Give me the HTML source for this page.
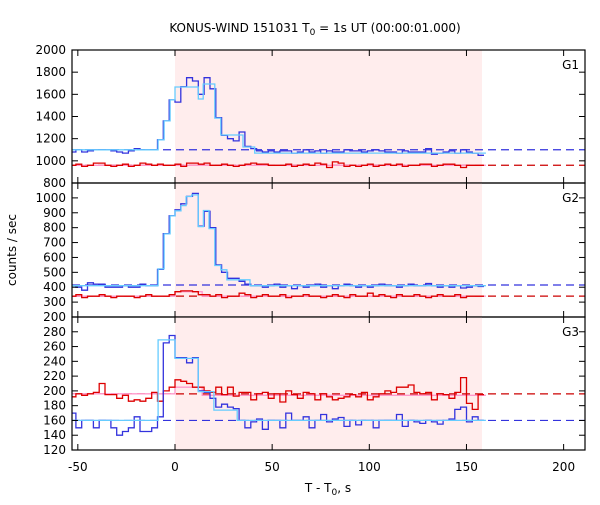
<!DOCTYPE html>
<html><head><meta charset="utf-8"><style>
body{margin:0;background:#fff;}
svg text{font-family:"DejaVu Sans","Liberation Sans",sans-serif;font-size:12px;fill:#000;}
</style></head><body>
<svg id="c" width="600" height="500" xmlns="http://www.w3.org/2000/svg">
<text x="315" y="32" text-anchor="middle">KONUS-WIND 151031 T<tspan font-size="9" dy="3">0</tspan><tspan dy="-3"> = 1s UT (00:00:01.000)</tspan></text>
<text x="328" y="492" text-anchor="middle">T - T<tspan font-size="9" dy="3">0</tspan><tspan dy="-3">, s</tspan></text>
<text transform="translate(16,250) rotate(-90)" text-anchor="middle">counts / sec</text>
</svg>
<script>
const binStart=-54, binW=3;
const g1Blue=[1080,1100,1080,1090,1100,1100,1100,1090,1080,1070,1090,1110,1100,1100,1100,1190,1360,1550,1530,1670,1750,1720,1600,1750,1650,1390,1230,1200,1180,1260,1130,1110,1090,1080,1090,1080,1090,1090,1070,1080,1100,1080,1090,1070,1090,1080,1080,1100,1090,1090,1080,1090,1100,1090,1080,1080,1070,1090,1080,1080,1080,1110,1060,1070,1080,1090,1070,1100,1080,1070,1050];
const g1Red=[960,970,950,960,980,980,960,950,960,970,950,960,980,970,960,970,960,960,970,950,980,980,970,980,960,960,970,960,950,960,970,980,970,970,960,960,960,970,950,960,970,960,980,970,940,990,980,950,960,950,960,970,950,960,970,960,970,950,960,960,970,970,950,960,970,970,960,940,960,960,960];
const g2Blue=[410,400,380,430,420,420,400,400,400,410,400,400,420,410,410,520,760,880,920,960,1010,1030,810,910,800,550,500,460,460,440,420,410,410,400,410,420,400,410,390,410,400,410,420,400,410,390,410,420,410,400,410,400,410,420,410,410,400,410,420,410,410,425,410,400,410,400,410,395,400,410,405];
const g2Red=[340,350,330,340,340,350,340,330,340,340,340,330,340,350,340,340,340,350,370,375,375,370,350,350,340,350,330,340,340,360,350,330,340,350,340,340,350,330,340,340,350,340,340,330,340,350,340,330,350,340,340,360,340,350,340,330,350,340,340,350,340,330,340,350,340,340,350,330,340,340,340];
const g3Blue=[170,150,160,160,150,160,160,150,140,145,150,165,145,145,150,165,265,275,245,245,238,245,200,198,190,178,182,178,176,160,150,158,162,148,160,160,150,170,160,160,165,150,160,168,158,162,164,152,160,154,160,160,150,160,160,160,168,152,160,158,156,160,158,155,160,162,175,178,158,165,160];
const g3Red=[192,196,194,196,198,210,195,195,190,194,186,188,186,190,198,186,200,205,215,213,210,205,205,200,198,205,195,205,193,198,198,188,196,198,190,196,185,200,195,190,198,196,188,196,192,188,190,192,195,192,198,188,192,196,200,198,205,205,208,198,196,198,188,196,195,190,198,218,183,175,195];
const g1LBEdges=[-54,-8.7,-5.6,-2.5,0,12,14.5,20.5,23.6,35,41,160];
const g1LB=[1100,1190,1360,1550,1666,1558,1693,1386,1233,1125,1070];
const g2LBEdges=[-54,-8.7,-5.6,-2.5,0,3.1,5.7,8.6,12,14.6,17.5,20.5,23.6,26.7,38.6,160];
const g2LB=[410,523,758,879,913,948,1009,1020,807,915,794,546,517,450,410];
const g3LBEdges=[-54,-8.7,-5.6,0,12,20,32,160];
const g3LB=[160,269,269,244,199,174,160];
const pinkEdges=[-54,0,14,160];
const g1Pink=[960,960,960];
const g2Pink=[340,370,340];
const g3Pink=[196,205,194];
const dash1=[1100,960], dash2=[415,340], dash3=[160,196];
const xTicks=[-50,0,50,100,150,200];
const y1Ticks=[800,1000,1200,1400,1600,1800,2000];
const y2Ticks=[200,300,400,500,600,700,800,900,1000];
const y3Ticks=[120,140,160,180,200,220,240,260,280];
const shade=[0,158];

const NS="http://www.w3.org/2000/svg", svg=document.getElementById('c');
const L=72,R=585,X0=-53,X1=211;
const xs=v=>L+(v-X0)/(X1-X0)*(R-L);
function mk(t,a,p){const e=document.createElementNS(NS,t);for(const k in a)e.setAttribute(k,a[k]);(p||svg).appendChild(e);return e;}
const panels=[
 {top:50,bot:183,min:800,max:2000,ticks:y1Ticks,blue:g1Blue,red:g1Red,lb:g1LB,lbE:g1LBEdges,pink:g1Pink,dash:dash1,name:'G1'},
 {top:183,bot:317,min:200,max:1100,ticks:y2Ticks,blue:g2Blue,red:g2Red,lb:g2LB,lbE:g2LBEdges,pink:g2Pink,dash:dash2,name:'G2'},
 {top:317,bot:450,min:120,max:300,ticks:y3Ticks,blue:g3Blue,red:g3Red,lb:g3LB,lbE:g3LBEdges,pink:g3Pink,dash:dash3,name:'G3'}];
function stepPath(edges,vals,ys){let d='';for(let i=0;i<vals.length&&i<edges.length-1;i++){const x0=xs(edges[i]),x1=xs(edges[i+1]),y=ys(vals[i]);d+=(i?'L':'M')+x0.toFixed(1)+','+y.toFixed(1)+'L'+x1.toFixed(1)+','+y.toFixed(1);}return d;}
function binPath(vals,ys){const e=vals.map((_,i)=>binStart+i*binW);e.push(binStart+vals.length*binW);return stepPath(e,vals,ys);}
panels.forEach((p,k)=>{
 const ys=v=>p.bot-(v-p.min)/(p.max-p.min)*(p.bot-p.top);
 const g=mk('g',{});  
 const cp=mk('clipPath',{id:'cp'+k},g); mk('rect',{x:L,y:p.top,width:R-L,height:p.bot-p.top},cp);
 const r=mk('rect',{x:xs(shade[0]),y:p.top,width:xs(shade[1])-xs(shade[0]),height:p.bot-p.top,fill:'#ffeded'},g);
  
 const cg=mk('g',{'clip-path':'url(#cp'+k+')'},g);
 const d1=mk('line',{x1:L,x2:R,y1:ys(p.dash[0]),y2:ys(p.dash[0]),stroke:'#3333dd','stroke-width':1.2,'stroke-dasharray':'8,5'},cg);
  
 const d2=mk('line',{x1:L,x2:R,y1:ys(p.dash[1]),y2:ys(p.dash[1]),stroke:'#cc0000','stroke-width':1.2,'stroke-dasharray':'8,5'},cg);
  
 const pr=mk('path',{d:stepPath(pinkEdges,p.pink,ys),fill:'none',stroke:'#ff99cc','stroke-width':1.3},cg);
  
 const rd=mk('path',{d:binPath(p.red,ys),fill:'none',stroke:'#dd0000','stroke-width':1.3},cg);
  
 const bl=mk('path',{d:binPath(p.blue,ys),fill:'none',stroke:'#3333dd','stroke-width':1.3},cg);
  
 const lb=mk('path',{d:stepPath(p.lbE,p.lb,ys),fill:'none',stroke:'#66ccff','stroke-width':1.3},cg);
  
 mk('rect',{x:L,y:p.top,width:R-L,height:p.bot-p.top,fill:'none',stroke:'#000','stroke-width':1.2},g);
 xTicks.forEach(t=>{const x=xs(t);mk('line',{x1:x,x2:x,y1:p.top,y2:p.top+6,stroke:'#000'},g);mk('line',{x1:x,x2:x,y1:p.bot,y2:p.bot-6,stroke:'#000'},g);});
 p.ticks.forEach(t=>{const y=ys(t);mk('line',{x1:L,x2:L+6,y1:y,y2:y,stroke:'#000'},g);mk('line',{x1:R,x2:R-6,y1:y,y2:y,stroke:'#000'},g);
  const tx=mk('text',{x:L-6,y:y+4,'text-anchor':'end'},g);tx.textContent=t;
   });
 const lab=mk('text',{x:R-6,y:p.top+19,'text-anchor':'end'},g);lab.textContent=p.name;
  
});
xTicks.forEach(t=>{const tx=mk('text',{x:xs(t),y:471,'text-anchor':'middle'});tx.textContent=t;
  });
</script>
</body></html>
